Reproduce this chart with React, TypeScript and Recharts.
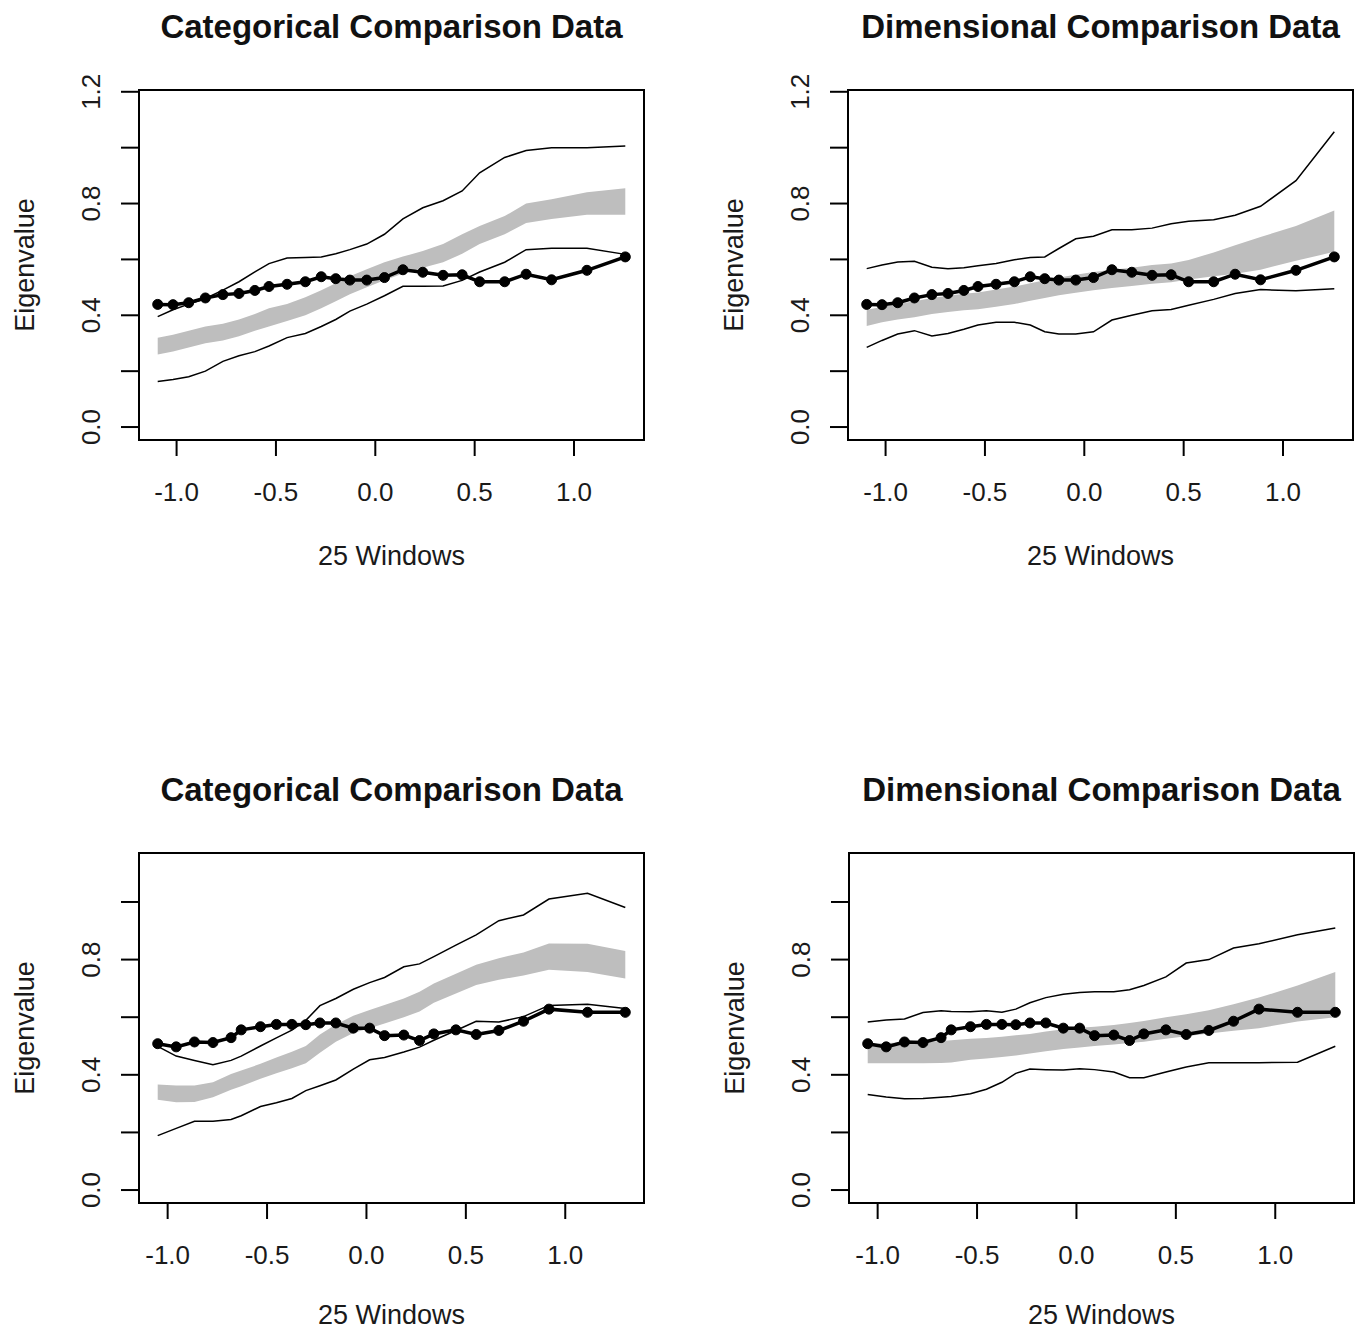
import React from 'react';
import { ComposedChart, Area, Line, XAxis, YAxis, ReferenceArea, Label } from 'recharts';

// window centres and the observed eigenvalues (shared by the two panels in a row)
const topWindows = [-1.095, -1.018, -0.939, -0.855, -0.767, -0.686, -0.606, -0.535, -0.444, -0.352, -0.272, -0.199, -0.128, -0.043, 0.046, 0.139, 0.239, 0.341, 0.437, 0.525, 0.651, 0.759, 0.887, 1.065, 1.258];
const topObserved = [0.439, 0.438, 0.445, 0.462, 0.474, 0.478, 0.489, 0.503, 0.511, 0.520, 0.538, 0.531, 0.526, 0.526, 0.535, 0.563, 0.554, 0.543, 0.545, 0.520, 0.520, 0.547, 0.527, 0.561, 0.609];

const bottomWindows = [-1.05, -0.957, -0.865, -0.772, -0.681, -0.63, -0.533, -0.453, -0.375, -0.305, -0.234, -0.154, -0.066, 0.016, 0.091, 0.188, 0.267, 0.339, 0.45, 0.552, 0.666, 0.79, 0.918, 1.112, 1.302];
const bottomObserved = [0.508, 0.497, 0.514, 0.512, 0.529, 0.556, 0.567, 0.575, 0.575, 0.574, 0.580, 0.580, 0.562, 0.562, 0.536, 0.538, 0.519, 0.542, 0.556, 0.540, 0.554, 0.586, 0.628, 0.617, 0.617];

// top left: categorical comparison data
const tlUpper = [0.395, 0.42, 0.44, 0.46, 0.49, 0.52, 0.555, 0.585, 0.605, 0.607, 0.609, 0.62, 0.635, 0.655, 0.69, 0.745, 0.785, 0.81, 0.845, 0.91, 0.965, 0.99, 1.0, 1.0, 1.006];
const tlLower = [0.163, 0.17, 0.18, 0.2, 0.235, 0.255, 0.27, 0.29, 0.32, 0.335, 0.36, 0.385, 0.415, 0.44, 0.47, 0.504, 0.504, 0.505, 0.525, 0.555, 0.59, 0.635, 0.64, 0.64, 0.618];
const tlBandHi = [0.32, 0.33, 0.345, 0.36, 0.37, 0.385, 0.405, 0.425, 0.44, 0.465, 0.49, 0.515, 0.54, 0.565, 0.59, 0.61, 0.63, 0.655, 0.69, 0.72, 0.755, 0.8, 0.815, 0.84, 0.855];
const tlBandLo = [0.26, 0.27, 0.285, 0.3, 0.31, 0.325, 0.345, 0.36, 0.38, 0.4, 0.425, 0.45, 0.475, 0.5, 0.525, 0.55, 0.57, 0.59, 0.62, 0.655, 0.69, 0.73, 0.745, 0.76, 0.76];

// top right: dimensional comparison data
const trUpper = [0.567, 0.58, 0.591, 0.593, 0.572, 0.567, 0.57, 0.577, 0.585, 0.599, 0.607, 0.609, 0.639, 0.674, 0.683, 0.706, 0.706, 0.712, 0.728, 0.737, 0.742, 0.758, 0.79, 0.882, 1.057];
const trLower = [0.285, 0.31, 0.333, 0.345, 0.326, 0.335, 0.35, 0.365, 0.375, 0.375, 0.365, 0.341, 0.333, 0.333, 0.341, 0.383, 0.4, 0.416, 0.421, 0.436, 0.457, 0.478, 0.492, 0.488, 0.495];
const trBandHi = [0.42, 0.43, 0.44, 0.45, 0.462, 0.47, 0.477, 0.482, 0.492, 0.503, 0.515, 0.525, 0.535, 0.545, 0.555, 0.563, 0.57, 0.58, 0.585, 0.598, 0.625, 0.651, 0.68, 0.72, 0.775];
const trBandLo = [0.362, 0.375, 0.385, 0.393, 0.405, 0.412, 0.418, 0.422, 0.431, 0.44, 0.452, 0.462, 0.472, 0.481, 0.49, 0.498, 0.505, 0.513, 0.518, 0.528, 0.54, 0.549, 0.563, 0.595, 0.627];

// bottom left: categorical comparison data
const blUpper = [0.499, 0.465, 0.45, 0.435, 0.45, 0.465, 0.5, 0.528, 0.555, 0.589, 0.64, 0.665, 0.697, 0.72, 0.738, 0.775, 0.785, 0.81, 0.85, 0.886, 0.935, 0.955, 1.01, 1.03, 0.981];
const blLower = [0.189, 0.214, 0.239, 0.239, 0.245, 0.258, 0.29, 0.303, 0.318, 0.345, 0.362, 0.382, 0.42, 0.452, 0.46, 0.479, 0.496, 0.52, 0.554, 0.586, 0.583, 0.602, 0.641, 0.645, 0.63];
const blBandHi = [0.366, 0.363, 0.363, 0.374, 0.403, 0.415, 0.438, 0.46, 0.48, 0.5, 0.54, 0.575, 0.605, 0.625, 0.642, 0.665, 0.688, 0.717, 0.751, 0.782, 0.805, 0.825, 0.856, 0.855, 0.83];
const blBandLo = [0.313, 0.305, 0.306, 0.322, 0.348, 0.36, 0.386, 0.405, 0.423, 0.44, 0.477, 0.515, 0.545, 0.562, 0.578, 0.6, 0.62, 0.65, 0.682, 0.712, 0.73, 0.745, 0.765, 0.757, 0.734];

// bottom right: dimensional comparison data
const brUpper = [0.583, 0.59, 0.594, 0.616, 0.622, 0.62, 0.619, 0.622, 0.617, 0.628, 0.65, 0.668, 0.68, 0.686, 0.688, 0.688, 0.695, 0.71, 0.74, 0.788, 0.8, 0.84, 0.855, 0.886, 0.91];
const brLower = [0.332, 0.323, 0.317, 0.318, 0.322, 0.325, 0.334, 0.35, 0.374, 0.405, 0.42, 0.418, 0.417, 0.421, 0.418, 0.41, 0.39, 0.39, 0.41, 0.427, 0.442, 0.442, 0.442, 0.444, 0.499];
const brBandHi = [0.508, 0.51, 0.512, 0.514, 0.517, 0.52, 0.525, 0.528, 0.532, 0.537, 0.542, 0.55, 0.558, 0.563, 0.567, 0.573, 0.58, 0.587, 0.6, 0.61, 0.624, 0.645, 0.668, 0.71, 0.757];
const brBandLo = [0.44, 0.44, 0.44, 0.44, 0.441, 0.443, 0.452, 0.457, 0.462, 0.467, 0.474, 0.482, 0.49, 0.495, 0.5, 0.505, 0.51, 0.515, 0.525, 0.534, 0.543, 0.553, 0.562, 0.585, 0.6];

const xTicks = [-1, -0.5, 0, 0.5, 1];
const topYLim = [0, 1.16];
const topYTicks = [0, 0.2, 0.4, 0.6, 0.8, 1.0, 1.2];
const topYLabels = [0, 0.4, 0.8, 1.2];
const bottomYLim = [0, 1.125];
const bottomYTicks = [0, 0.2, 0.4, 0.6, 0.8, 1.0];
const bottomYLabels = [0, 0.4, 0.8];

const FONT = '"Liberation Sans", Arial, Helvetica, sans-serif';
const W = 680;
const H = 600;

// R-style 4% range expansion
const pad = (lo: number, hi: number): [number, number] => {
  const d = (hi - lo) * 0.04;
  return [lo - d, hi + d];
};

interface PanelProps {
  title: string;
  left: number;
  top: number;
  windows: number[];
  observed: number[];
  upper: number[];
  lower: number[];
  bandHi: number[];
  bandLo: number[];
  yLim: number[];
  yTicks: number[];
  yLabels: number[];
  xLabelOffset: number;
}

const Panel: React.FC<PanelProps> = ({ title, left, top, windows, observed, upper, lower, bandHi, bandLo, yLim, yTicks, yLabels, xLabelOffset }) => {
  const data = windows.map((w, i) => ({
    w,
    obs: observed[i],
    up: upper[i],
    lo: lower[i],
    band: [bandLo[i], bandHi[i]],
  }));
  const xDomain = pad(Math.min(...windows), Math.max(...windows));
  const yDomain = pad(yLim[0], yLim[1]);

  const XTick = (props: any) => {
    const { x, y, payload } = props;
    return (
      <text x={x} y={y + 36} textAnchor="middle" dominantBaseline="central" fontSize={26} fontFamily={FONT} fill="#1a1a1a">
        {payload.value.toFixed(1)}
      </text>
    );
  };

  const YTick = (props: any) => {
    const { x, y, payload } = props;
    if (!yLabels.some((v) => Math.abs(v - payload.value) < 1e-6)) return <g />;
    const cx = x - 30;
    return (
      <text x={cx} y={y} transform={`rotate(-90, ${cx}, ${y})`} textAnchor="middle" dominantBaseline="central" fontSize={26} fontFamily={FONT} fill="#1a1a1a">
        {payload.value.toFixed(1)}
      </text>
    );
  };

  return (
    <div style={{ position: 'absolute', left, top, width: W, height: H }}>
      <div style={{ position: 'absolute', left: 139, width: 505, top: 8, textAlign: 'center', fontFamily: FONT, fontWeight: 'bold', fontSize: 33, lineHeight: '38px', color: '#111' }}>
        {title}
      </div>
      <ComposedChart width={W} height={H} data={data} margin={{ top: 90, right: 36, bottom: 100, left: 59 }}>
        <XAxis dataKey="w" type="number" domain={xDomain} ticks={xTicks} interval={0} allowDataOverflow
          height={60} axisLine={false} tickSize={16} tickMargin={0} tickLine={{ stroke: '#000', strokeWidth: 2 }} tick={<XTick />}>
          <Label content={(p: any) => {
            const vb = p.viewBox;
            return (
              <text x={vb.x + vb.width / 2} y={vb.y + xLabelOffset} textAnchor="middle" dominantBaseline="central" fontSize={27} fontFamily={FONT} fill="#1a1a1a">
                25 Windows
              </text>
            );
          }} />
        </XAxis>
        <YAxis type="number" domain={yDomain} ticks={yTicks} interval={0} allowDataOverflow
          width={80} axisLine={false} tickSize={18} tickMargin={0} tickLine={{ stroke: '#000', strokeWidth: 2 }} tick={<YTick />}>
          <Label content={(p: any) => {
            const vb = p.viewBox;
            const cx = vb.x + vb.width - 114;
            const cy = vb.y + vb.height / 2;
            return (
              <text x={cx} y={cy} transform={`rotate(-90, ${cx}, ${cy})`} textAnchor="middle" dominantBaseline="central" fontSize={27} fontFamily={FONT} fill="#1a1a1a">
                Eigenvalue
              </text>
            );
          }} />
        </YAxis>
        <Area type="linear" dataKey="band" stroke="none" fill="#BEBEBE" fillOpacity={1} isAnimationActive={false} />
        <Line type="linear" dataKey="up" stroke="#000" strokeWidth={1.5} dot={false} isAnimationActive={false} />
        <Line type="linear" dataKey="lo" stroke="#000" strokeWidth={1.5} dot={false} isAnimationActive={false} />
        <Line type="linear" dataKey="obs" stroke="#000" strokeWidth={3.5} dot={{ r: 5, fill: '#000', stroke: '#000', strokeWidth: 1 }} isAnimationActive={false} />
        <ReferenceArea x1={xDomain[0]} x2={xDomain[1]} y1={yDomain[0]} y2={yDomain[1]} fill="none" fillOpacity={0} stroke="#000" strokeWidth={2} ifOverflow="visible" />
      </ComposedChart>
    </div>
  );
};

export default function App() {
  return (
    <div style={{ position: 'absolute', left: 0, top: 0, width: 1360, height: 1332, background: '#fff', overflow: 'hidden' }}>
      <Panel title="Categorical Comparison Data" left={0} top={0} windows={topWindows} observed={topObserved} xLabelOffset={116}
        upper={tlUpper} lower={tlLower} bandHi={tlBandHi} bandLo={tlBandLo} yLim={topYLim} yTicks={topYTicks} yLabels={topYLabels} />
      <Panel title="Dimensional Comparison Data" left={709} top={0} windows={topWindows} observed={topObserved} xLabelOffset={116}
        upper={trUpper} lower={trLower} bandHi={trBandHi} bandLo={trBandLo} yLim={topYLim} yTicks={topYTicks} yLabels={topYLabels} />
      <Panel title="Categorical Comparison Data" left={0} top={763} windows={bottomWindows} observed={bottomObserved} xLabelOffset={112}
        upper={blUpper} lower={blLower} bandHi={blBandHi} bandLo={blBandLo} yLim={bottomYLim} yTicks={bottomYTicks} yLabels={bottomYLabels} />
      <Panel title="Dimensional Comparison Data" left={710} top={763} windows={bottomWindows} observed={bottomObserved} xLabelOffset={112}
        upper={brUpper} lower={brLower} bandHi={brBandHi} bandLo={brBandLo} yLim={bottomYLim} yTicks={bottomYTicks} yLabels={bottomYLabels} />
    </div>
  );
}
